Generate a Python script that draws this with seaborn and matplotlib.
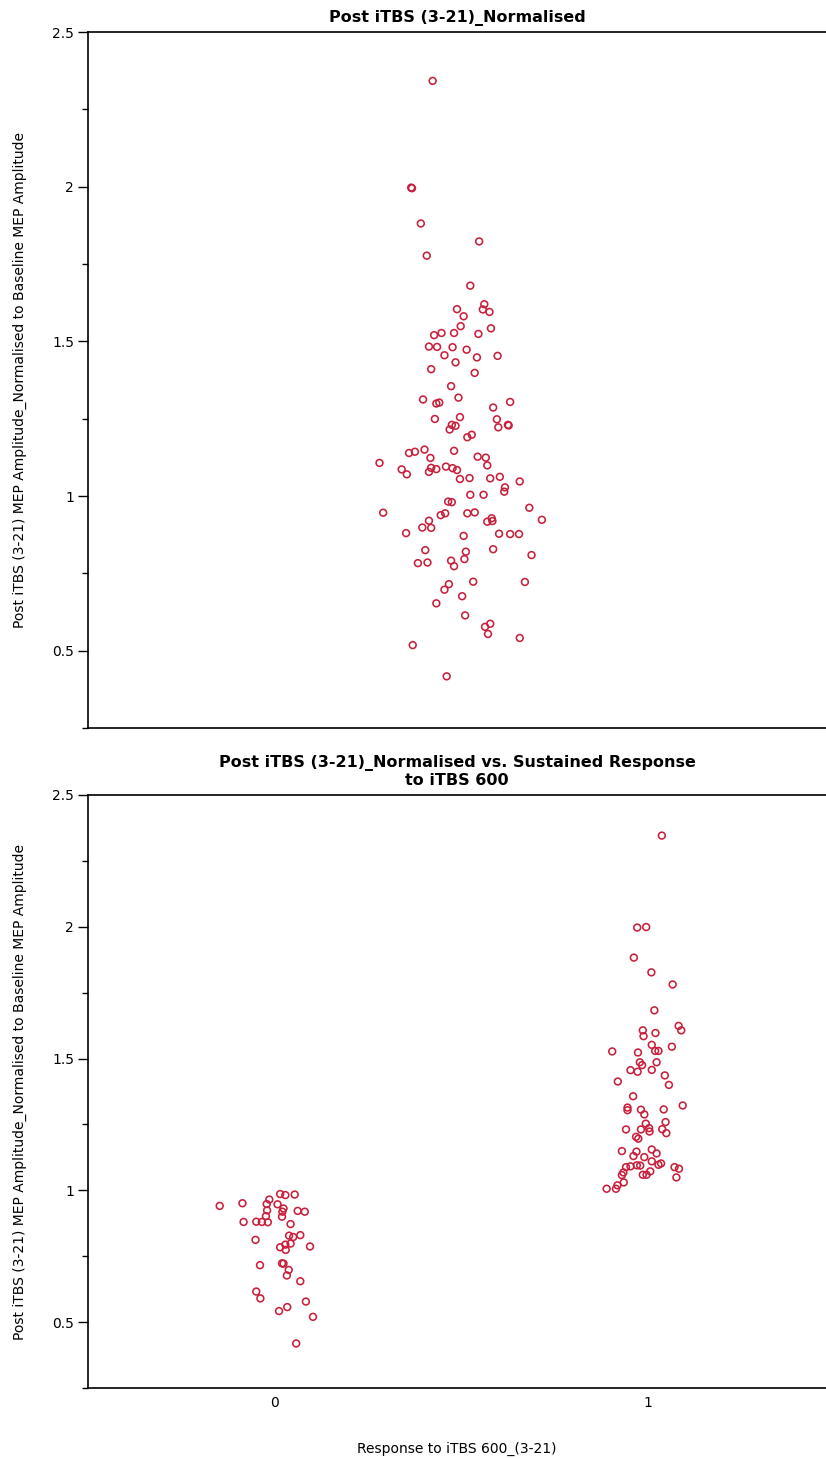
import numpy as np
import pandas as pd
import matplotlib
matplotlib.use("Agg")
import matplotlib.pyplot as plt
from matplotlib.ticker import MultipleLocator, FuncFormatter
import seaborn as sns

# ---------------- data ----------------
# Top panel: normalised MEP amplitude and horizontal jitter offsets
top_values = [2.342, 1.997, 1.995, 1.881, 1.823, 1.777, 1.680, 1.620, 1.603, 1.595,
              1.604, 1.581, 1.549, 1.542, 1.527, 1.527, 1.520, 1.524, 1.483, 1.482,
              1.481, 1.473, 1.455, 1.448, 1.453, 1.432, 1.410, 1.398, 1.355, 1.312,
              1.318, 1.299, 1.302, 1.304, 1.286, 1.249, 1.255, 1.248, 1.230, 1.227,
              1.215, 1.222, 1.230, 1.228, 1.190, 1.198, 1.150, 1.139, 1.143, 1.146,
              1.123, 1.127, 1.124, 1.099, 1.107, 1.086, 1.070, 1.078, 1.091, 1.087,
              1.095, 1.090, 1.084, 1.055, 1.058, 1.057, 1.062, 1.047, 1.028, 1.014,
              1.004, 1.004, 0.982, 0.980, 0.946, 0.962, 0.923, 0.920, 0.938, 0.944,
              0.944, 0.947, 0.917, 0.928, 0.919, 0.898, 0.897, 0.880, 0.871, 0.878,
              0.877, 0.877, 0.825, 0.820, 0.828, 0.809, 0.783, 0.785, 0.791, 0.796,
              0.773, 0.715, 0.697, 0.723, 0.722, 0.676, 0.653, 0.614, 0.587, 0.577,
              0.554, 0.541, 0.518, 0.417]
top_jitter = [-0.033, -0.062, -0.061, -0.049, 0.030, -0.041, 0.018, 0.037, 0.035, 0.044,
              0.000, 0.009, 0.005, 0.046, -0.021, -0.004, -0.031, 0.029, -0.038, -0.027,
              -0.006, 0.013, -0.017, 0.027, 0.055, -0.002, -0.035, 0.024, -0.008, -0.046,
              0.002, -0.028, -0.024, 0.072, 0.049, -0.030, 0.004, 0.054, -0.007, -0.002,
              -0.010, 0.056, 0.069, 0.070, 0.014, 0.020, -0.044, -0.065, -0.057, -0.004,
              -0.036, 0.028, 0.039, 0.041, -0.105, -0.075, -0.068, -0.038, -0.035, -0.028,
              -0.015, -0.006, 0.000, 0.004, 0.017, 0.045, 0.058, 0.085, 0.065, 0.064,
              0.018, 0.036, -0.012, -0.007, -0.100, 0.098, 0.115, -0.038, -0.022, -0.016,
              0.014, 0.024, 0.041, 0.047, 0.048, -0.047, -0.035, -0.069, 0.009, 0.057,
              0.072, 0.084, -0.043, 0.012, 0.049, 0.101, -0.053, -0.040, -0.008, 0.010,
              -0.004, -0.011, -0.017, 0.022, 0.092, 0.007, -0.028, 0.011, 0.045, 0.038,
              0.042, 0.085, -0.060, -0.014]

# Bottom panel, response group 0
g0_values = [0.986, 0.982, 0.984, 0.941, 0.951, 0.965, 0.948, 0.947, 0.931, 0.924,
             0.919, 0.922, 0.919, 0.902, 0.900, 0.880, 0.881, 0.880, 0.879, 0.872,
             0.812, 0.828, 0.823, 0.830, 0.784, 0.794, 0.774, 0.798, 0.787, 0.716,
             0.723, 0.722, 0.698, 0.677, 0.655, 0.616, 0.590, 0.578, 0.557, 0.542,
             0.520, 0.419]
g0_jitter = [0.015, 0.029, 0.054, -0.147, -0.086, -0.014, -0.021, 0.008, 0.024, -0.020,
             0.021, 0.062, 0.081, -0.023, 0.020, -0.083, -0.049, -0.034, -0.018, 0.043,
             -0.051, 0.039, 0.050, 0.069, 0.015, 0.029, 0.030, 0.043, 0.095, -0.039,
             0.020, 0.024, 0.038, 0.033, 0.069, -0.049, -0.038, 0.084, 0.034, 0.012,
             0.103, 0.058]

# Bottom panel, response group 1
g1_values = [2.346, 1.997, 1.999, 1.883, 1.827, 1.781, 1.683, 1.624, 1.607, 1.607,
             1.585, 1.597, 1.527, 1.523, 1.552, 1.529, 1.529, 1.545, 1.486, 1.475,
             1.486, 1.456, 1.450, 1.457, 1.436, 1.400, 1.413, 1.357, 1.314, 1.304,
             1.306, 1.288, 1.307, 1.322, 1.253, 1.259, 1.231, 1.231, 1.236, 1.223,
             1.232, 1.217, 1.203, 1.196, 1.149, 1.147, 1.155, 1.140, 1.130, 1.126,
             1.110, 1.097, 1.102, 1.088, 1.091, 1.095, 1.094, 1.088, 1.082, 1.068,
             1.058, 1.059, 1.059, 1.072, 1.049, 1.030, 1.019, 1.006, 1.006]
g1_jitter = [0.038, -0.028, -0.004, -0.037, 0.010, 0.067, 0.018, 0.083, 0.090, -0.013,
             -0.011, 0.021, -0.095, -0.026, 0.011, 0.020, 0.029, 0.065, -0.021, -0.015,
             0.024, -0.046, -0.027, 0.011, 0.046, 0.057, -0.080, -0.039, -0.054, -0.054,
             -0.018, -0.009, 0.043, 0.094, -0.005, 0.048, -0.058, -0.018, 0.004, 0.005,
             0.039, 0.050, -0.031, -0.025, -0.069, -0.030, 0.011, 0.024, -0.038, -0.009,
             0.011, 0.029, 0.036, -0.058, -0.046, -0.029, -0.020, 0.072, 0.084, -0.065,
             -0.069, -0.013, -0.003, 0.007, 0.077, -0.064, -0.081, -0.085, -0.110]

groups = [0, 1]
group_labels = ["0", "1"]
y_ticks = [0.5, 1.0, 1.5, 2.0, 2.5]

title_top = "Post iTBS (3-21)_Normalised"
title_bottom = "Post iTBS (3-21)_Normalised vs. Sustained Response\nto iTBS 600"
ylabel = "Post iTBS (3-21) MEP Amplitude_Normalised to Baseline MEP Amplitude"
xlabel = "Response to iTBS 600_(3-21)"

# ---------------- styling ----------------
sns.set_theme(style="white")
plt.rcParams["font.family"] = ["DejaVu Sans"]
for key in ("text.color", "axes.labelcolor", "xtick.color", "ytick.color"):
    plt.rcParams[key] = "black"
RED = "#c8203c"

fig = plt.figure(figsize=(8.26, 14.59), dpi=100)
ax1 = fig.add_axes([88 / 826, 1 - 728 / 1459, 738 / 826, (728 - 32) / 1459])
ax2 = fig.add_axes([88 / 826, 1 - 1388 / 1459, 738 / 826, (1388 - 795) / 1459])

df_top = pd.DataFrame({"x": top_jitter, "y": top_values})
df_bot = pd.DataFrame({
    "x": [groups[0] + j for j in g0_jitter] + [groups[1] + j for j in g1_jitter],
    "y": g0_values + g1_values,
})

scatter_kw = dict(s=24, marker="o", facecolor="none", edgecolor=RED, linewidth=1.15)
sns.scatterplot(data=df_top, x="x", y="y", ax=ax1, **scatter_kw)
sns.scatterplot(data=df_bot, x="x", y="y", ax=ax2, **scatter_kw)

fmt = FuncFormatter(lambda v, p: f"{v:g}")
for ax in (ax1, ax2):
    ax.set_ylim(0.25, 2.5)
    ax.set_yticks(y_ticks)
    ax.yaxis.set_major_formatter(fmt)
    ax.yaxis.set_minor_locator(MultipleLocator(0.25))
    ax.tick_params(axis="y", which="major", direction="out", length=7, width=1,
                   color="black", labelcolor="black", labelsize=10, pad=3, left=True)
    ax.tick_params(axis="y", which="minor", direction="out", length=4, width=1,
                   color="black", left=True)
    for side in ("top", "left", "bottom"):
        ax.spines[side].set_visible(True)
        ax.spines[side].set_color("black")
        ax.spines[side].set_linewidth(1.2)
    ax.spines["right"].set_visible(False)
    ax.set_ylabel(ylabel, fontsize=10, labelpad=18, color="black")

ax1.set_xlim(-0.5, 0.5)
ax1.set_xticks([])
ax1.set_xlabel("")
ax1.set_title(title_top, fontsize=11.5, fontweight="bold", pad=7, color="black")

ax2.set_xlim(-0.5, 1.478)
ax2.set_xticks(groups)
ax2.set_xticklabels(group_labels)
ax2.tick_params(axis="x", which="both", length=0, labelsize=10, pad=6,
                labelcolor="black")
ax2.set_xlabel(xlabel, fontsize=10, labelpad=23, color="black")
ax2.set_title(title_bottom, fontsize=11.5, fontweight="bold", pad=7,
              linespacing=1.15, color="black")

fig.savefig("out.png", dpi=100)
